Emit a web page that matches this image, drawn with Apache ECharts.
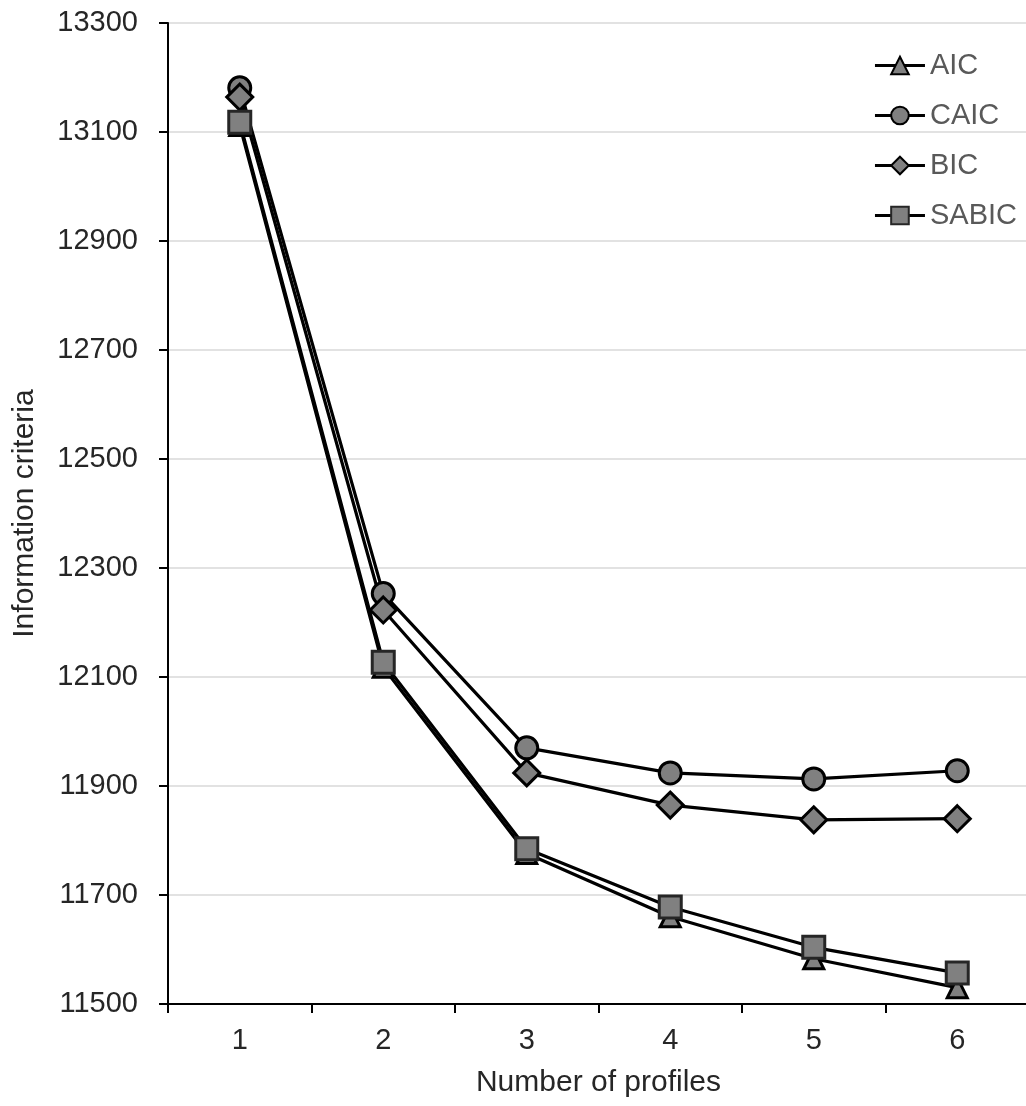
<!DOCTYPE html>
<html>
<head>
<meta charset="utf-8">
<script src="https://cdn.jsdelivr.net/npm/echarts@6/dist/echarts.min.js"></script>
<style>
  html, body { margin: 0; padding: 0; background: #fff; }
  #chart { width: 1026px; height: 1106px; }
</style>
</head>
<body>
<div id="chart"></div>
<script>
  // data
  const profiles = ['1', '2', '3', '4', '5', '6']
  const aic = [13112, 12118, 11776, 11660, 11583, 11530]
  const caic = [13181, 12253, 11970, 11924, 11913, 11928]
  const bic = [13164, 12223, 11924, 11865, 11838, 11840]
  const sabic = [13118, 12127, 11785, 11678, 11604, 11557]

  const font = 'Arial, "Liberation Sans", sans-serif'
  const chart = echarts.init(document.getElementById('chart'))

  const makeSeries = (name, data, symbol, size, border) => ({
    name: name,
    type: 'line',
    data: data,
    symbol: symbol,
    symbolSize: size,
    showAllSymbol: true,
    lineStyle: { color: '#000', width: 3.2 },
    itemStyle: { color: '#808080', borderColor: border, borderWidth: 3 },
    emphasis: { disabled: true },
  })

  chart.setOption({
    animation: false,
    grid: { left: 168, top: 23, right: -3, bottom: 102, outerBoundsMode: 'none', containLabel: false },
    legend: {
      orient: 'vertical',
      right: 4,
      top: 46,
      itemWidth: 50,
      itemHeight: 22,
      itemGap: 21,
      lineStyle: { width: 3, color: '#000' },
      textStyle: { color: '#595959', fontSize: 29, fontFamily: font },
      data: ['AIC', 'CAIC', 'BIC', 'SABIC'],
    },
    xAxis: {
      type: 'category',
      data: profiles,
      name: 'Number of profiles',
      nameLocation: 'middle',
      nameGap: 64,
      nameTextStyle: { color: '#262626', fontSize: 30, fontFamily: font },
      axisLine: { lineStyle: { color: '#000', width: 2 } },
      axisTick: { show: true, length: 9, lineStyle: { color: '#000', width: 2 } },
      axisLabel: { color: '#262626', fontSize: 29, fontFamily: font, margin: 22 },
      splitLine: { show: false },
    },
    yAxis: {
      type: 'value',
      min: 11500,
      max: 13300,
      interval: 200,
      name: 'Information criteria',
      nameLocation: 'middle',
      nameGap: 128,
      nameTextStyle: { color: '#262626', fontSize: 30, fontFamily: font },
      axisLine: { show: true, lineStyle: { color: '#000', width: 2 } },
      axisTick: { show: true, length: 9, lineStyle: { color: '#000', width: 2 } },
      axisLabel: { color: '#262626', fontSize: 29, fontFamily: font, margin: 30, formatter: (v) => String(v) },
      splitLine: { lineStyle: { color: '#d9d9d9', width: 1.5 } },
    },
    series: [
      makeSeries('AIC', aic, 'triangle', 20, '#000'),
      makeSeries('CAIC', caic, 'circle', 22, '#000'),
      makeSeries('BIC', bic, 'diamond', 26, '#000'),
      makeSeries('SABIC', sabic, 'rect', 22, '#262626'),
    ],
  })
</script>
</body>
</html>
